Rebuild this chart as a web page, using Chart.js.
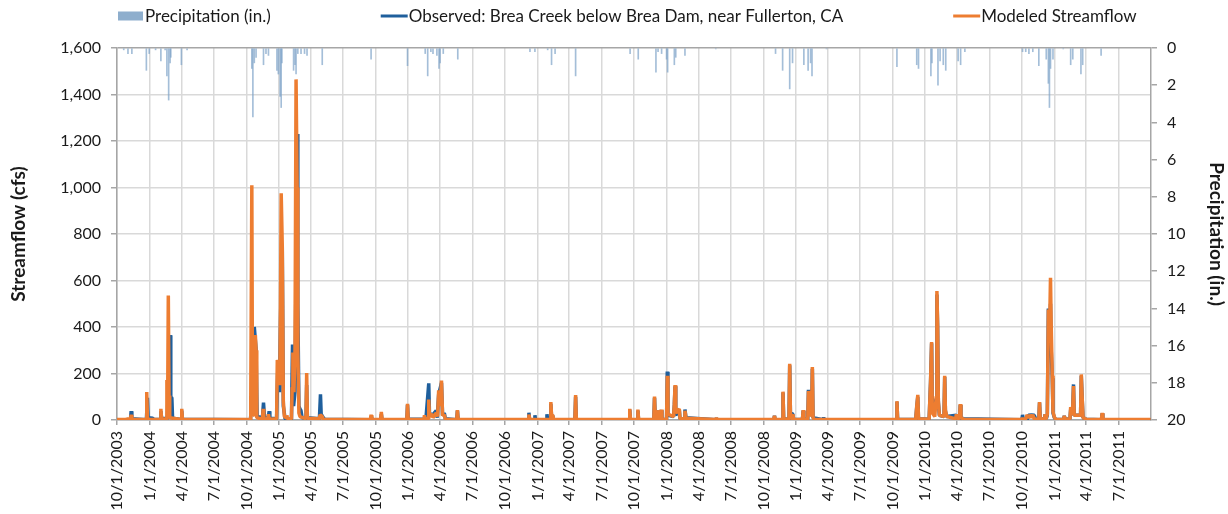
<!DOCTYPE html>
<html>
<head>
<meta charset="utf-8">
<script src="https://cdn.jsdelivr.net/npm/chart.js@4.4.1/dist/chart.umd.min.js"></script>
<style>
  html, body { margin: 0; padding: 0; background: #ffffff; }
  #wrap { width: 1228px; height: 514px; }
</style>
</head>
<body>
<div id="wrap"><canvas id="c" width="1228" height="514"></canvas></div>
<script>
// ---------- DATA ----------
const quarterLabels = [
  '10/1/2003','1/1/2004','4/1/2004','7/1/2004','10/1/2004','1/1/2005','4/1/2005','7/1/2005',
  '10/1/2005','1/1/2006','4/1/2006','7/1/2006','10/1/2006','1/1/2007','4/1/2007','7/1/2007',
  '10/1/2007','1/1/2008','4/1/2008','7/1/2008','10/1/2008','1/1/2009','4/1/2009','7/1/2009',
  '10/1/2009','1/1/2010','4/1/2010','7/1/2010','10/1/2010','1/1/2011','4/1/2011','7/1/2011'
];
const periodStart = '2003-10-01';
const periodEnd = '2011-09-30';
const flowTicks = [0, 200, 400, 600, 800, 1000, 1200, 1400, 1600];
const precipTicks = [0, 2, 4, 6, 8, 10, 12, 14, 16, 18, 20];

// Observed daily streamflow (cfs): [date, value]
const observedFlow = [
  ['2003-10-01',1],
  ['2003-11-08',1],['2003-11-10',38],['2003-11-12',5],
  ['2003-12-23',1],['2003-12-26',95],['2003-12-28',10],['2004-01-10',8],['2004-01-12',2],
  ['2004-01-31',2],['2004-02-02',38],['2004-02-04',8],
  ['2004-02-20',5],['2004-02-23',150],['2004-02-25',120],['2004-02-28',365],['2004-03-01',100],['2004-03-04',95],['2004-03-06',8],
  ['2004-03-30',2],['2004-04-01',40],['2004-04-03',3],
  ['2004-10-12',1],['2004-10-15',60],['2004-10-17',150],['2004-10-20',20],['2004-10-22',20],['2004-10-23',400],['2004-10-28',305],['2004-10-31',15],
  ['2004-11-15',10],['2004-11-18',75],['2004-11-21',10],
  ['2004-12-01',8],['2004-12-04',38],['2004-12-06',8],
  ['2004-12-25',5],['2004-12-28',200],['2005-01-02',120],['2005-01-08',700],['2005-01-10',750],['2005-01-13',60],['2005-01-18',5],
  ['2005-02-05',3],['2005-02-08',325],['2005-02-11',60],['2005-02-15',120],['2005-02-21',1230],['2005-02-23',500],['2005-02-26',60],['2005-03-01',48],['2005-03-04',40],['2005-03-07',10],
  ['2005-03-18',5],['2005-03-20',150],['2005-03-22',10],
  ['2005-04-25',5],['2005-04-28',110],['2005-04-30',25],['2005-05-06',10],['2005-05-10',3],
  ['2005-09-16',1],['2005-09-18',15],['2005-09-20',1],
  ['2005-10-15',1],['2005-10-17',25],['2005-10-19',1],
  ['2005-12-28',1],['2005-12-30',65],['2006-01-01',3],
  ['2006-02-16',3],['2006-02-18',15],['2006-02-20',5],['2006-02-28',158],['2006-03-02',30],['2006-03-10',20],['2006-03-21',40],['2006-03-24',10],['2006-03-28',110],['2006-04-05',160],['2006-04-08',20],['2006-04-13',30],['2006-04-16',5],
  ['2006-05-18',1],['2006-05-20',40],['2006-05-22',2],
  ['2006-12-06',1],['2006-12-08',31],['2006-12-10',2],
  ['2006-12-23',1],['2006-12-25',20],['2006-12-27',1],
  ['2007-01-26',1],['2007-01-28',25],['2007-01-30',1],
  ['2007-02-06',1],['2007-02-08',70],['2007-02-10',15],['2007-02-13',20],['2007-02-16',2],
  ['2007-04-17',1],['2007-04-19',100],['2007-04-21',2],
  ['2007-09-17',1],['2007-09-19',45],['2007-09-21',1],
  ['2007-10-10',1],['2007-10-12',40],['2007-10-14',1],
  ['2007-11-26',1],['2007-11-28',95],['2007-11-30',10],['2007-12-07',40],['2007-12-09',5],['2007-12-17',42],['2007-12-19',2],
  ['2008-01-01',2],['2008-01-03',208],['2008-01-05',20],['2008-01-21',15],['2008-01-23',65],['2008-01-25',145],['2008-01-27',20],['2008-02-06',45],['2008-02-08',5],['2008-02-20',5],['2008-02-22',45],['2008-02-25',10],
  ['2008-05-19',1],['2008-05-21',8],['2008-05-23',1],
  ['2008-10-30',1],['2008-11-01',18],['2008-11-03',1],
  ['2008-11-23',1],['2008-11-25',118],['2008-11-27',5],
  ['2008-12-12',2],['2008-12-14',235],['2008-12-16',30],['2008-12-23',25],['2008-12-25',3],
  ['2009-01-19',2],['2009-01-21',40],['2009-01-23',3],
  ['2009-02-03',3],['2009-02-05',130],['2009-02-08',30],['2009-02-14',20],['2009-02-16',220],['2009-02-18',10],
  ['2009-03-18',1],['2009-03-20',10],['2009-03-22',1],
  ['2009-10-11',1],['2009-10-13',78],['2009-10-15',2],
  ['2009-12-05',2],['2009-12-08',55],['2009-12-11',100],['2009-12-13',5],
  ['2010-01-12',3],['2010-01-16',160],['2010-01-19',330],['2010-01-21',40],['2010-02-01',90],['2010-02-03',540],['2010-02-05',400],['2010-02-07',80],['2010-02-10',20],['2010-02-23',15],['2010-02-25',185],['2010-02-27',40],['2010-03-02',15],['2010-03-30',20],['2010-04-01',5],['2010-04-08',5],['2010-04-10',65],['2010-04-12',10],['2010-04-20',5],
  ['2010-10-01',1],['2010-10-03',22],['2010-10-05',2],['2010-10-16',2],['2010-10-20',20],['2010-10-28',22],['2010-11-05',20],['2010-11-10',3],['2010-11-18',2],['2010-11-20',75],['2010-11-22',5],['2010-12-04',3],['2010-12-06',25],['2010-12-09',5],['2010-12-12',20],['2010-12-15',480],['2010-12-18',300],['2010-12-21',500],['2010-12-23',300],['2010-12-26',180],['2010-12-28',30],['2011-01-01',10],['2011-01-05',3],
  ['2011-01-27',2],['2011-01-29',18],['2011-01-31',2],['2011-02-14',5],['2011-02-16',45],['2011-02-18',20],['2011-02-22',60],['2011-02-24',153],['2011-02-26',20],['2011-03-16',20],['2011-03-18',190],['2011-03-21',75],['2011-03-23',10],['2011-04-01',3],
  ['2011-05-14',1],['2011-05-16',28],['2011-05-18',2],
  ['2011-09-30',1]
];

// Modeled daily streamflow (cfs): [date, value]
const modeledFlow = [
  ['2003-10-01',2],
  ['2003-10-27',2],['2003-10-29',10],['2003-10-31',2],
  ['2003-11-08',2],['2003-11-10',22],['2003-11-12',3],
  ['2003-12-22',2],['2003-12-24',120],['2003-12-26',10],['2003-12-29',3],
  ['2004-01-31',2],['2004-02-02',48],['2004-02-04',5],
  ['2004-02-17',3],['2004-02-19',172],['2004-02-21',40],['2004-02-23',535],['2004-02-25',105],['2004-02-27',10],
  ['2004-03-30',2],['2004-04-01',48],['2004-04-03',3],
  ['2004-10-11',2],['2004-10-13',85],['2004-10-16',1010],['2004-10-18',25],['2004-10-24',20],['2004-10-26',365],['2004-10-28',300],['2004-10-30',10],
  ['2004-11-15',3],['2004-11-17',48],['2004-11-19',5],
  ['2004-11-30',3],['2004-12-02',25],['2004-12-04',3],
  ['2004-12-25',5],['2004-12-27',258],['2004-12-31',240],['2005-01-03',150],['2005-01-05',500],['2005-01-07',975],['2005-01-10',750],['2005-01-13',80],['2005-01-16',15],['2005-01-21',10],['2005-01-23',20],['2005-01-25',5],
  ['2005-02-05',5],['2005-02-07',140],['2005-02-09',290],['2005-02-12',120],['2005-02-15',300],['2005-02-18',1465],['2005-02-21',1000],['2005-02-23',300],['2005-02-26',30],['2005-03-01',15],
  ['2005-03-18',5],['2005-03-20',202],['2005-03-22',8],
  ['2005-04-25',5],['2005-04-27',22],['2005-05-03',15],['2005-05-06',3],
  ['2005-09-16',2],['2005-09-18',22],['2005-09-20',2],
  ['2005-10-15',2],['2005-10-17',35],['2005-10-19',2],
  ['2005-12-28',2],['2005-12-30',70],['2006-01-01',3],
  ['2006-02-14',2],['2006-02-16',20],['2006-02-18',5],['2006-02-26',5],['2006-02-28',88],['2006-03-02',15],['2006-03-10',25],['2006-03-12',10],['2006-03-21',30],['2006-03-25',15],['2006-03-28',128],['2006-04-01',60],['2006-04-05',170],['2006-04-08',20],['2006-04-13',22],['2006-04-16',3],
  ['2006-05-18',2],['2006-05-20',42],['2006-05-22',3],
  ['2006-12-06',2],['2006-12-08',24],['2006-12-10',3],
  ['2007-02-06',2],['2007-02-08',77],['2007-02-10',20],['2007-02-13',22],['2007-02-16',3],
  ['2007-04-17',2],['2007-04-19',107],['2007-04-21',3],
  ['2007-09-17',2],['2007-09-19',48],['2007-09-21',2],
  ['2007-10-10',2],['2007-10-12',45],['2007-10-14',2],
  ['2007-11-26',2],['2007-11-28',101],['2007-11-30',8],['2007-12-05',5],['2007-12-07',42],['2007-12-09',4],['2007-12-15',3],['2007-12-17',45],['2007-12-19',3],
  ['2008-01-01',2],['2008-01-03',190],['2008-01-05',25],['2008-01-21',15],['2008-01-23',70],['2008-01-25',150],['2008-01-27',30],['2008-02-06',48],['2008-02-08',5],['2008-02-20',5],['2008-02-22',40],['2008-02-25',8],
  ['2008-05-19',2],['2008-05-21',8],['2008-05-23',2],
  ['2008-10-30',2],['2008-11-01',18],['2008-11-03',2],
  ['2008-11-23',2],['2008-11-25',122],['2008-11-27',5],
  ['2008-12-12',2],['2008-12-14',242],['2008-12-16',30],['2008-12-21',5],['2008-12-23',25],['2008-12-25',3],
  ['2009-01-19',2],['2009-01-21',42],['2009-01-23',3],
  ['2009-02-03',3],['2009-02-05',125],['2009-02-08',25],['2009-02-14',20],['2009-02-16',228],['2009-02-18',10],['2009-02-21',3],
  ['2009-10-11',2],['2009-10-13',81],['2009-10-15',2],
  ['2009-12-05',2],['2009-12-08',60],['2009-12-11',108],['2009-12-13',5],
  ['2010-01-12',3],['2010-01-16',164],['2010-01-19',335],['2010-01-21',30],['2010-01-28',15],['2010-02-01',100],['2010-02-03',555],['2010-02-05',410],['2010-02-07',80],['2010-02-10',20],['2010-02-23',15],['2010-02-25',190],['2010-02-27',42],['2010-03-03',15],['2010-03-28',5],['2010-03-30',25],['2010-04-01',5],['2010-04-08',8],['2010-04-10',68],['2010-04-12',10],['2010-04-20',3],
  ['2010-10-01',2],['2010-10-03',8],['2010-10-05',2],['2010-10-12',5],['2010-10-16',22],['2010-10-20',8],['2010-10-24',22],['2010-10-28',10],['2010-11-01',22],['2010-11-05',5],['2010-11-18',2],['2010-11-20',77],['2010-11-22',5],['2010-12-04',3],['2010-12-06',25],['2010-12-08',3],['2010-12-12',25],['2010-12-15',475],['2010-12-18',350],['2010-12-21',612],['2010-12-23',400],['2010-12-26',190],['2010-12-28',35],['2011-01-01',12],['2011-01-05',3],
  ['2011-01-27',2],['2011-01-29',18],['2011-01-31',2],['2011-02-14',5],['2011-02-16',55],['2011-02-18',20],['2011-02-22',60],['2011-02-24',146],['2011-02-26',20],['2011-03-16',20],['2011-03-18',196],['2011-03-21',77],['2011-03-23',10],['2011-04-01',3],
  ['2011-05-14',2],['2011-05-16',30],['2011-05-18',2],
  ['2011-09-30',2]
];

// Daily precipitation (in.): [date, value]
const precipitation = [
  ['2003-10-20',0.1],['2003-11-01',0.3],['2003-11-12',0.3],['2003-12-23',1.2],['2003-12-31',0.3],['2004-01-18',0.1],['2004-02-02',0.7],['2004-02-14',0.1],['2004-02-19',1.5],['2004-02-24',2.8],['2004-02-28',0.8],['2004-03-01',0.5],['2004-03-31',0.9],['2004-04-16',0.1],
  ['2004-10-16',1.1],['2004-10-19',3.7],['2004-10-23',0.8],['2004-10-28',0.5],['2004-11-18',0.9],['2004-11-25',0.3],['2004-12-02',0.4],['2004-12-26',1.2],['2004-12-30',1.4],['2005-01-04',2.6],['2005-01-07',3.2],['2005-01-09',0.8],['2005-02-11',1.2],['2005-02-15',0.9],['2005-02-18',1.4],['2005-02-23',0.3],['2005-03-04',0.3],['2005-03-14',0.3],['2005-03-21',0.4],['2005-05-03',0.9],
  ['2005-09-18',0.6],['2005-12-30',0.95],['2006-02-18',0.3],['2006-02-25',1.5],['2006-03-06',0.2],['2006-03-12',0.3],['2006-03-23',0.4],['2006-03-29',1.1],['2006-04-01',0.8],['2006-04-10',0.3],['2006-05-21',0.6],
  ['2006-12-11',0.2],['2006-12-25',0.2],['2007-01-30',0.1],['2007-02-10',0.9],['2007-02-20',0.3],['2007-04-19',1.5],
  ['2007-09-20',0.3],['2007-10-13',0.6],['2007-12-02',1.3],['2007-12-08',0.2],['2007-12-18',0.3],['2008-01-01',0.6],['2008-01-04',1.3],['2008-01-23',0.9],['2008-01-27',0.5],['2008-02-22',0.4],['2008-05-19',0.05],
  ['2008-11-04',0.3],['2008-11-24',1.2],['2008-12-14',2.2],['2008-12-22',0.8],['2009-01-23',0.9],['2009-02-04',1.2],['2009-02-11',0.8],['2009-02-15',1.5],['2009-03-28',0.05],
  ['2009-10-13',1.0],['2009-12-08',0.9],['2009-12-13',1.1],['2010-01-17',1.5],['2010-01-20',0.8],['2010-02-06',2.0],['2010-02-12',0.7],['2010-02-21',0.9],['2010-02-28',1.2],['2010-04-04',0.7],['2010-04-11',0.9],['2010-04-23',0.2],
  ['2010-10-03',0.2],['2010-10-12',0.2],['2010-10-21',0.3],['2010-11-01',0.2],['2010-11-18',0.95],['2010-12-09',0.6],['2010-12-15',1.9],['2010-12-18',3.2],['2010-12-21',1.1],['2010-12-28',0.6],['2011-01-26',0.05],['2011-02-16',0.9],['2011-02-22',0.6],['2011-03-17',1.4],['2011-03-22',0.9],['2011-05-13',0.4]
];

const seriesNames = ['Precipitation (in.)', 'Observed: Brea Creek below Brea Dam, near Fullerton, CA', 'Modeled Streamflow'];
const axisTitles = { flow: 'Streamflow (cfs)', precip: 'Precipitation (in.)' };

// ---------- helpers ----------
const DAY = 86400000;
const isoToUTC = s => { const [y, m, d] = s.split('-').map(Number); return Date.UTC(y, m - 1, d); };
const usToUTC = s => { const [m, d, y] = s.split('/').map(Number); return Date.UTC(y, m - 1, d); };
const START = isoToUTC(periodStart);
const dayOfIso = s => (isoToUTC(s) - START) / DAY;
const dayOfUs = s => (usToUTC(s) - START) / DAY;
const toPoints = arr => arr.map(([d, v]) => ({ x: dayOfIso(d), y: v }));
const tickMap = new Map(quarterLabels.map(l => [dayOfUs(l), l]));

const FONT = "Lato, 'Open Sans', 'DejaVu Sans', sans-serif";
const TXT = '#1a1a1a';
const AXIS = '#a6a6a6';
const GRID = '#d9d9d9';

const legendPlugin = {
  id: 'excelLegend',
  afterDraw(chart) {
    const ctx = chart.ctx;
    const y = 16;
    const gap = 110;
    ctx.save();
    ctx.font = '17px ' + FONT;
    ctx.textBaseline = 'middle';
    ctx.textAlign = 'left';
    let x = chart.chartArea.left + 1;
    chart.data.datasets.forEach(ds => {
      if (ds.type === 'bar') {
        ctx.fillStyle = ds.legendColor;
        ctx.fillRect(x, y - 4.5, 25, 9);
        x += 27;
      } else {
        ctx.strokeStyle = ds.borderColor;
        ctx.lineWidth = 3;
        ctx.beginPath();
        ctx.moveTo(x, y);
        ctx.lineTo(x + 27, y);
        ctx.stroke();
        x += 28;
      }
      ctx.fillStyle = TXT;
      ctx.fillText(ds.label, x, y + 1);
      x += ctx.measureText(ds.label).width + gap;
    });
    ctx.restore();
  }
};

new Chart(document.getElementById('c'), {
  type: 'line',
  data: {
    datasets: [
      {
        type: 'bar',
        label: seriesNames[0],
        data: toPoints(precipitation),
        yAxisID: 'y1',
        backgroundColor: 'rgba(125,162,200,0.7)',
        legendColor: '#8eaecd',
        borderWidth: 0,
        barThickness: 1,
        order: 3
      },
      {
        type: 'line',
        label: seriesNames[1],
        data: toPoints(observedFlow),
        yAxisID: 'y',
        borderColor: '#1f5f9c',
        backgroundColor: '#1f5f9c',
        borderWidth: 3.5,
        borderJoinStyle: 'bevel',
        pointRadius: 0,
        tension: 0,
        order: 2
      },
      {
        type: 'line',
        label: seriesNames[2],
        data: toPoints(modeledFlow),
        yAxisID: 'y',
        borderColor: '#ed7d31',
        backgroundColor: '#ed7d31',
        borderWidth: 3.5,
        borderJoinStyle: 'bevel',
        pointRadius: 0,
        tension: 0,
        order: 1
      }
    ]
  },
  options: {
    responsive: false,
    animation: false,
    devicePixelRatio: 1,
    layout: { padding: { top: 48, left: 0, right: 0, bottom: 0 } },
    plugins: { legend: { display: false }, tooltip: { enabled: false } },
    scales: {
      x: {
        type: 'linear',
        min: 0,
        max: dayOfIso(periodEnd) + 1,
        offset: false,
        afterBuildTicks: axis => { axis.ticks = quarterLabels.map(l => ({ value: dayOfUs(l) })); },
        afterFit: axis => { axis.height = 94; },
        ticks: {
          autoSkip: false,
          maxRotation: 90,
          minRotation: 90,
          padding: 6,
          color: TXT,
          font: { family: FONT, size: 16 },
          callback: v => tickMap.get(v) || ''
        },
        grid: { color: GRID, lineWidth: 1.5, tickLength: 5, tickColor: AXIS, offset: false },
        border: { color: AXIS, width: 1.5 }
      },
      y: {
        type: 'linear',
        position: 'left',
        min: 0,
        max: 1600,
        afterBuildTicks: axis => { axis.ticks = flowTicks.map(v => ({ value: v })); },
        afterFit: axis => { axis.width = 117; },
        ticks: {
          padding: 10,
          color: TXT,
          font: { family: FONT, size: 16 },
          callback: v => v.toLocaleString('en-US')
        },
        grid: {
          color: c => (c.tick && c.tick.value === 1600 ? AXIS : GRID),
          lineWidth: 1.5,
          tickLength: 6,
          tickColor: AXIS
        },
        border: { color: AXIS, width: 1.5 },
        title: {
          display: true,
          text: axisTitles.flow,
          color: TXT,
          font: { family: FONT, size: 19, weight: 'bold' },
          padding: { top: 7, bottom: 0 }
        }
      },
      y1: {
        type: 'linear',
        position: 'right',
        reverse: true,
        min: 0,
        max: 20,
        afterBuildTicks: axis => { axis.ticks = precipTicks.map(v => ({ value: v })); },
        afterFit: axis => { axis.width = 77; },
        ticks: {
          padding: 10,
          color: TXT,
          font: { family: FONT, size: 16 }
        },
        grid: { drawOnChartArea: false, tickLength: 6, tickColor: AXIS, lineWidth: 1.5 },
        border: { color: AXIS, width: 1.5 },
        title: {
          display: true,
          text: axisTitles.precip,
          color: TXT,
          font: { family: FONT, size: 19, weight: 'bold' },
          padding: { top: 0, bottom: 0 }
        }
      }
    }
  },
  plugins: [legendPlugin]
});
</script>
</body>
</html>
